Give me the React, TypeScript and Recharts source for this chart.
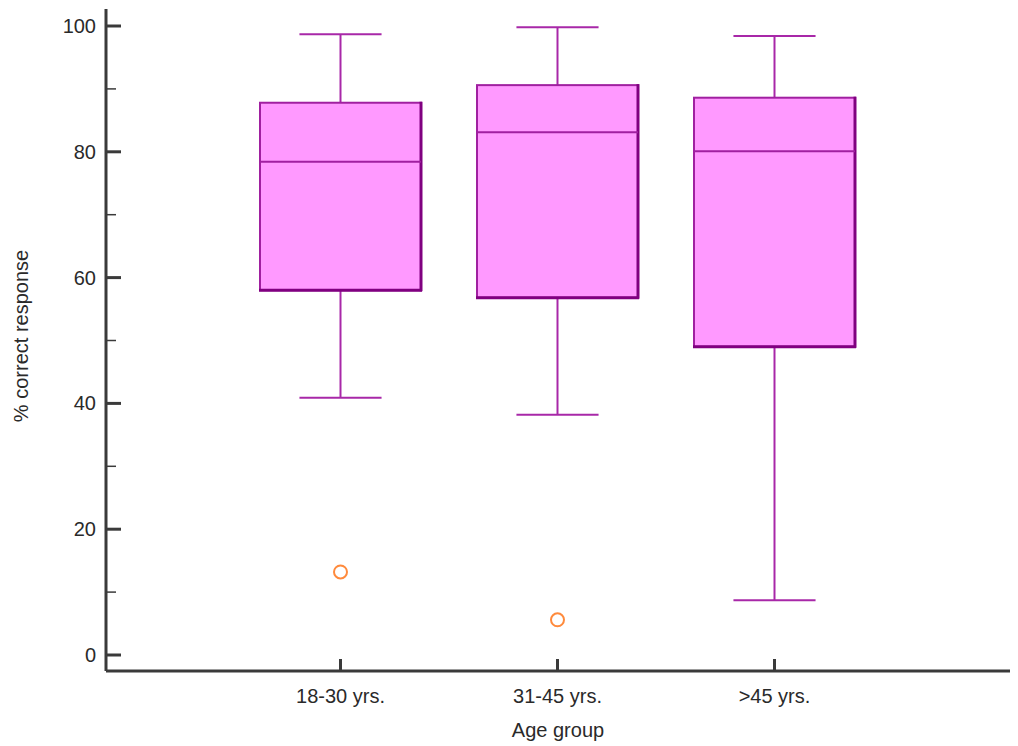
import React from 'react'
import { ComposedChart, Bar, Scatter, XAxis, YAxis } from 'recharts'

const categories = ['18-30 yrs.', '31-45 yrs.', '>45 yrs.']
const mins = [40.9, 38.2, 8.7]
const q1s = [58.0, 56.8, 49.0]
const medians = [78.4, 83.1, 80.1]
const q3s = [87.8, 90.6, 88.6]
const maxs = [98.7, 99.8, 98.4]
const outliers: (number | null)[] = [13.2, 5.6, null]
const yTicks = [0, 10, 20, 30, 40, 50, 60, 70, 80, 90, 100]

const data = categories.map((name, i) => ({
  name,
  min: mins[i],
  q1: q1s[i],
  median: medians[i],
  q3: q3s[i],
  max: maxs[i],
  outlier: outliers[i],
}))

const FONT = '"Liberation Sans", Arial, sans-serif'
const AXIS = '#3a3a3a'
const AXIS_X = 106

// draws whiskers, box and median from the range bar (min..max)
function BoxShape(props: any) {
  const { x, y, width, height, payload } = props
  if (payload == null) return null
  const top = Math.min(y, y + height)
  const bottom = Math.max(y, y + height)
  const k = (bottom - top) / (payload.max - payload.min)
  const py = (v: number) => bottom - (v - payload.min) * k
  const cx = x + width / 2
  const cap = width * 0.255
  const yQ1 = py(payload.q1)
  const yQ3 = py(payload.q3)
  const yMed = py(payload.median)
  const whisker = '#a828a8'
  return (
    <g>
      <line x1={cx} x2={cx} y1={py(payload.max)} y2={yQ3} stroke={whisker} strokeWidth={2} />
      <line x1={cx} x2={cx} y1={yQ1} y2={py(payload.min)} stroke={whisker} strokeWidth={2} />
      <line x1={cx - cap} x2={cx + cap} y1={py(payload.max)} y2={py(payload.max)} stroke={whisker} strokeWidth={2} />
      <line x1={cx - cap} x2={cx + cap} y1={py(payload.min)} y2={py(payload.min)} stroke={whisker} strokeWidth={2} />
      <rect x={x} y={yQ3} width={width} height={yQ1 - yQ3} fill="#ff99ff" stroke="#a020a0" strokeWidth={2} />
      <line x1={x + width} x2={x + width} y1={yQ3 - 1} y2={yQ1 + 1} stroke="#800080" strokeWidth={3} />
      <line x1={x - 1} x2={x + width + 1} y1={yQ1} y2={yQ1} stroke="#800080" strokeWidth={3} />
      <line x1={x} x2={x + width} y1={yMed} y2={yMed} stroke="#a020a0" strokeWidth={2} />
    </g>
  )
}

function OutlierShape(props: any) {
  const { cx, cy, payload } = props
  if (payload == null || payload.outlier == null || cy == null || isNaN(cy)) return <g />
  return <circle cx={cx} cy={cy} r={6.5} fill="#fff" stroke="#ff8a3c" strokeWidth={2} />
}

// ticks point inward (to the right of the axis line)
function YTick(props: any) {
  const { y, payload } = props
  const major = payload.value % 20 === 0
  return (
    <g>
      <line x1={AXIS_X} x2={AXIS_X + (major ? 15 : 10)} y1={y} y2={y} stroke={AXIS} strokeWidth={major ? 3 : 1.5} />
      {major && (
        <text x={AXIS_X - 10} y={y} dy={7} textAnchor="end" fontSize={20} fill="#2a2a2a" fontFamily={FONT}>
          {payload.value}
        </text>
      )}
    </g>
  )
}

function XTick(props: any) {
  const { x, y, payload } = props
  return (
    <g>
      <line x1={x} x2={x} y1={y} y2={y - 12} stroke={AXIS} strokeWidth={3} />
      <text x={x} y={y + 32} textAnchor="middle" fontSize={20} fill="#2a2a2a" fontFamily={FONT}>
        {payload.value}
      </text>
    </g>
  )
}

function YLabel() {
  const tx = 28
  const ty = 336
  return (
    <text x={tx} y={ty} textAnchor="middle" fontSize={20} fill="#2a2a2a" fontFamily={FONT} transform={`rotate(-90, ${tx}, ${ty})`}>
      % correct response
    </text>
  )
}

export default function App() {
  return (
    <div style={{ position: 'absolute', left: 0, top: 0, width: 1018, height: 746, background: '#fff' }}>
      <ComposedChart width={1018} height={746} data={data} margin={{ top: 9, right: 8, left: 0, bottom: 0 }}>
        <XAxis
          dataKey="name"
          height={75}
          padding={{ left: 126, right: 127 }}
          tickSize={0}
          tickMargin={0}
          tick={<XTick />}
          stroke={AXIS}
          axisLine={{ stroke: AXIS, strokeWidth: 3 }}
          label={{ value: 'Age group', position: 'insideBottom', offset: 9, fontSize: 20, fill: '#2a2a2a', fontFamily: FONT }}
        />
        <YAxis
          type="number"
          domain={[0, 100]}
          ticks={yTicks}
          interval={0}
          width={AXIS_X}
          padding={{ top: 17, bottom: 16 }}
          tickSize={0}
          tickMargin={10}
          tick={<YTick />}
          axisLine={{ stroke: AXIS, strokeWidth: 3 }}
          label={<YLabel />}
        />
        <Bar dataKey={(d: any) => [d.min, d.max]} barSize={161} shape={<BoxShape />} isAnimationActive={false} />
        <Scatter dataKey="outlier" shape={<OutlierShape />} isAnimationActive={false} />
      </ComposedChart>
    </div>
  )
}
